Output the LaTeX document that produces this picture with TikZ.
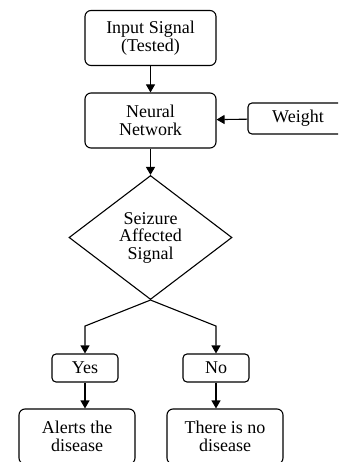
\documentclass[tikz,border=0pt]{standalone}
\usepackage{fontspec}
\setmainfont{Liberation Serif}
\usetikzlibrary{shapes.geometric,arrows.meta}

\tikzset{
	hop/.style={draw, rounded corners=6pt, line width=1.1pt, align=center,
		inner sep=0pt, minimum width=131pt, minimum height=55pt},
	hopnho/.style={hop, rounded corners=4pt, minimum width=66pt, minimum height=28pt},
	quyetdinh/.style={draw, diamond, line width=1.1pt, align=center, inner sep=0pt,
		minimum width=163pt, minimum height=124pt},
	muiten/.style={-{Triangle[length=8pt,width=9pt]}, line width=1.1pt}
}

\begin{document}
\begin{tikzpicture}[x=1pt, y=-1pt, font=\fontsize{18}{17.5}\selectfont]
	
	% 1. Gioi han vung ve
	\def\xmin{0}
	\def\xmax{338}
	\def\ymin{0}
	\def\ymax{462}
	\clip (\xmin,\ymin) rectangle (\xmax,\ymax);
	
	% 2. Cac khoi
	\node[hop] (input) at (150.5,38) {Input Signal\\(Tested)};
	\node[hop] (nn) at (150.5,120.5) {Neural\\Network};
	\node[hop, rounded corners=4pt, minimum width=100pt, minimum height=31pt] (weight) at (298,118.5) {Weight};
	\node[quyetdinh] (dec) at (150.5,237.5) {Seizure\\Affected\\Signal};
	\node[hopnho] (yes) at (85,368) {Yes};
	\node[hopnho] (no) at (216,368) {No};
	\node[hop, minimum width=116pt] (alert) at (77,436.5) {Alerts the\\disease};
	\node[hop, minimum width=116pt] (nodis) at (225,436.5) {There is no\\disease};
	
	% 3. Cac mui ten
	\draw[muiten] (input) -- (nn);
	\draw[muiten] (weight) -- (nn);
	\draw[muiten] (nn) -- (dec);
	\draw[muiten] (dec.south) -- ++(-65.5,26) -- (yes);
	\draw[muiten] (dec.south) -- ++(65.5,26) -- (no);
	\draw[muiten] (yes) -- (yes.south |- alert.north);
	\draw[muiten] (no) -- (no.south |- nodis.north);
	
\end{tikzpicture}
\end{document}
